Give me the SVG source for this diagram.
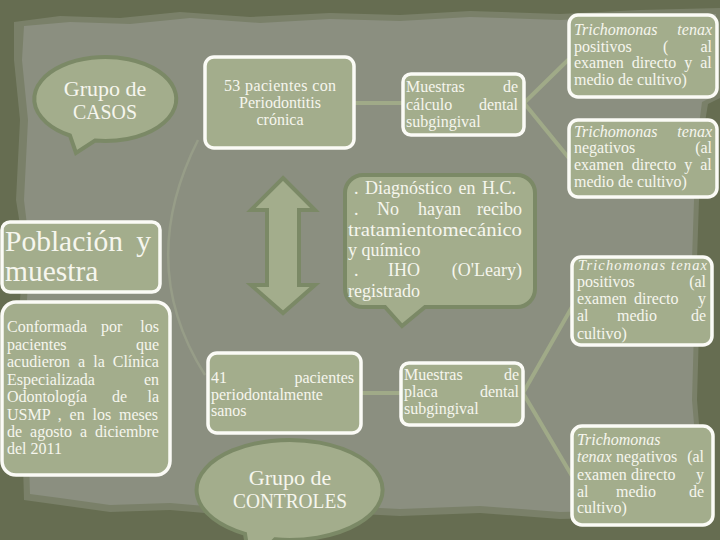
<svg xmlns="http://www.w3.org/2000/svg" width="720" height="540" viewBox="0 0 720 540">
<defs>
<style>
.box{fill:#a3ad8c;stroke:#fbfbf6;stroke-width:3.5}
.bub{fill:#a3ad8c;stroke:#7b8966;stroke-width:4}
text{font-family:'Liberation Serif','DejaVu Serif','Noto Serif',serif;fill:#f6f6ee;font-size:16px}
.c{text-anchor:middle}
.e{text-anchor:end}
.i{font-style:italic}
.d{font-size:18px}
.g{font-size:22px}
.con{stroke:#a0aa88;stroke-width:4;fill:none;stroke-linecap:round}
</style>
</defs>
<!-- background -->
<rect x="0" y="0" width="720" height="540" fill="#666d51"/>
<path d="M14 22 L60 16 L120 18 L180 12 L250 17 L330 13 L400 15 L470 11 L560 14 L640 10 L720 8 L720 98 L708 104 L702 140 L699 200 L697 260 L699 330 L697 400 L702 460 L706 520 L640 517 L560 519 L480 513 L400 516 L320 512 L240 516 L170 510 L110 512 L60 505 L24 500 L22 430 L18 360 L20 300 L24 250 L16 200 L20 120 L14 60 Z" fill="#7a8069"/>
<path d="M24 26 L70 22 L130 24 L190 18 L260 23 L330 19 L400 21 L470 17 L560 20 L640 16 L716 14 L716 95 L702 102 L697 140 L694 200 L692 260 L694 330 L692 400 L697 460 L700 512 L640 510 L560 512 L480 506 L400 509 L320 505 L240 509 L170 503 L110 505 L60 498 L30 494 L28 430 L24 360 L27 300 L30 250 L24 200 L28 120 L22 60 Z" fill="#8b8f80"/>
<path d="M198 140 Q135 265 205 375" fill="none" stroke="#979d88" stroke-width="2.5"/>
<!-- connectors -->
<g id="connectors">
<path class="con" d="M354 103 H403"/>
<path class="con" d="M524 103 L568 60" stroke-width="3"/>
<path class="con" d="M524 103 L568 157" stroke-width="3"/>
<path class="con" d="M361 393 H401"/>
<path class="con" d="M523 393 L572 307" stroke-width="3"/>
<path class="con" d="M523 393 L572 476" stroke-width="3"/>
</g>
<g id="casos">
<path class="bub" d="M95 140.6 A71 42 0 1 0 70 135.5 L76 153 Z"/>
<text class="c g" x="105" y="96">Grupo de</text>
<text class="c g" x="105" y="119" textLength="64" lengthAdjust="spacingAndGlyphs">CASOS</text>
</g>
<g id="pacientes53">
<rect class="box" x="205" y="57" width="149" height="91" rx="9"/>
<text class="c" x="280" y="91" textLength="112" lengthAdjust="spacing">53 pacientes con</text>
<text class="c" x="280" y="108">Periodontitis</text>
<text class="c" x="280" y="125">crónica</text>
</g>
<g id="calculo">
<rect class="box" x="403" y="74" width="121" height="61" rx="8"/>
<text x="406" y="92">Muestras</text><text class="e" x="518" y="92">de</text>
<text x="406" y="110">cálculo</text><text class="e" x="518" y="110">dental</text>
<text x="406" y="127">subgingival</text>
</g>
<g id="pos1">
<rect class="box" x="569" y="15" width="148" height="82" rx="9"/>
<text class="i" x="574" y="35">Trichomonas</text><text class="i e" x="712" y="35">tenax</text>
<text x="574" y="52">positivos</text><text x="663" y="52">(</text><text class="e" x="712" y="52">al</text>
<text x="574" y="68" word-spacing="4">examen directo y al</text>
<text x="574" y="85">medio de cultivo)</text>
</g>
<g id="neg1">
<rect class="box" x="569" y="120" width="148" height="77" rx="9"/>
<text class="i" x="574" y="137">Trichomonas</text><text class="i e" x="712" y="137">tenax</text>
<text x="574" y="153">negativos</text><text class="e" x="712" y="153">(al</text>
<text x="574" y="170" word-spacing="4">examen directo y al</text>
<text x="574" y="187">medio de cultivo)</text>
</g>
<g id="criterios">
<path class="bub" d="M363 175 H517 A18 18 0 0 1 535 193 V289 A18 18 0 0 1 517 307 H425 L402 326 L385 307 H363 A18 18 0 0 1 345 289 V193 A18 18 0 0 1 363 175 Z"/>
<text class="d" x="354" y="194" word-spacing="2">. Diagnóstico en H.C.</text>
<text class="d" x="354" y="215">.</text><text class="d" x="377" y="215">No</text><text class="d" x="418" y="215">hayan</text><text class="d e" x="522" y="215">recibo</text>
<text class="d" x="348" y="236" textLength="174" lengthAdjust="spacingAndGlyphs">tratamientomecánico</text>
<text class="d" x="348" y="256">y químico</text>
<text class="d" x="354" y="276">.</text><text class="d" x="388" y="276">IHO</text><text class="d e" x="522" y="276">(O'Leary)</text>
<text class="d" x="348" y="297">registrado</text>
</g>
<g id="flecha">
<polygon class="bub" points="283,178 315,210 299,210 299,285 315,285 283,313 251,285 267,285 267,210 251,210"/>
</g>
<g id="poblacion">
<rect class="box" x="2" y="222" width="158" height="70" rx="8"/>
<text x="5" y="251" style="font-size:29.5px">Población</text><text class="e" x="151" y="251" style="font-size:29.5px">y</text>
<text x="5" y="281" style="font-size:29.5px">muestra</text>
</g>
<g id="conformada">
<rect class="box" x="2" y="302" width="168" height="173" rx="14"/>
<text x="7" y="332">Conformada</text><text x="101" y="332">por</text><text class="e" x="159" y="332">los</text>
<text x="7" y="350">pacientes</text><text class="e" x="159" y="350">que</text>
<text x="7" y="367" word-spacing="4">acudieron a la Clínica</text>
<text x="7" y="385">Especializada</text><text class="e" x="159" y="385">en</text>
<text x="7" y="402">Odontología</text><text x="112" y="402">de</text><text class="e" x="159" y="402">la</text>
<text x="7" y="420" word-spacing="3.8">USMP , en los meses</text>
<text x="7" y="437" word-spacing="4">de agosto a diciembre</text>
<text x="7" y="454">del 2011</text>
</g>
<g id="pacientes41">
<rect class="box" x="208" y="353" width="153" height="80" rx="9"/>
<text x="211" y="383">41</text><text class="e" x="354" y="383">pacientes</text>
<text x="211" y="400">periodontalmente</text>
<text x="211" y="416">sanos</text>
</g>
<g id="placa">
<rect class="box" x="401" y="363" width="122" height="62" rx="8"/>
<text x="404" y="380">Muestras</text><text class="e" x="519" y="380">de</text>
<text x="404" y="397">placa</text><text class="e" x="519" y="397">dental</text>
<text x="404" y="414">subgingival</text>
</g>
<g id="pos2">
<rect class="box" x="572" y="257" width="140" height="88" rx="9"/>
<text class="i" x="578" y="270" style="font-size:14.5px" textLength="129" lengthAdjust="spacing">Trichomonas tenax</text>
<text x="577" y="287">positivos</text><text class="e" x="706" y="287">(al</text>
<text x="577" y="304">examen</text><text x="634" y="304">directo</text><text class="e" x="706" y="304">y</text>
<text x="577" y="321">al</text><text x="617" y="321">medio</text><text class="e" x="706" y="321">de</text>
<text x="577" y="339">cultivo)</text>
</g>
<g id="neg2">
<rect class="box" x="572" y="426" width="141" height="99" rx="10"/>
<text class="i" x="577" y="445">Trichomonas</text>
<text class="i" x="577" y="462">tenax</text><text x="616" y="462">negativos</text><text class="e" x="704" y="462">(al</text>
<text x="577" y="480">examen</text><text x="631" y="480">directo</text><text class="e" x="704" y="480">y</text>
<text x="577" y="497">al</text><text x="616" y="497">medio</text><text class="e" x="704" y="497">de</text>
<text x="577" y="513">cultivo)</text>
</g>
<g id="controles">
<path class="bub" d="M275 539.3 A93 50 0 1 0 245 533.8 L250 565 Z"/>
<text class="c g" x="290" y="485">Grupo de</text>
<text class="c g" x="290" y="508" textLength="114" lengthAdjust="spacingAndGlyphs">CONTROLES</text>
</g>
</svg>
